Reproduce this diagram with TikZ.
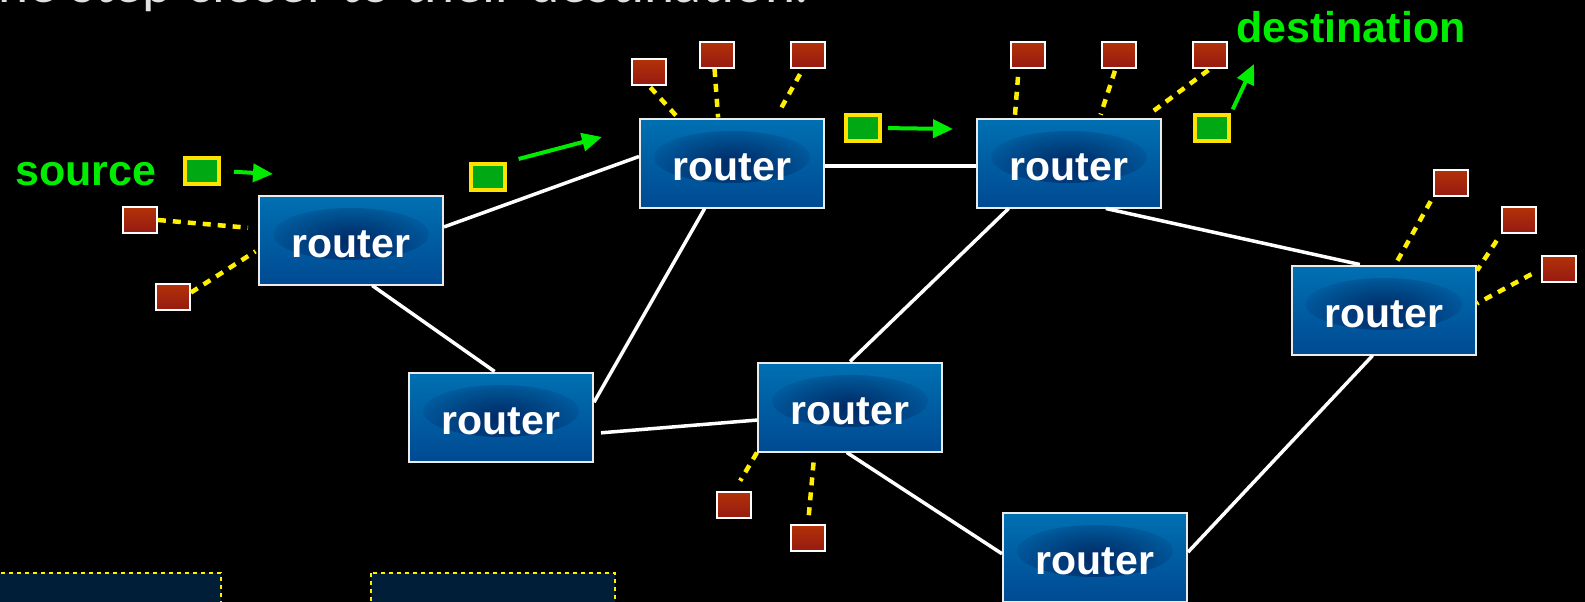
\documentclass[tikz,border=0pt]{standalone}
\usepackage{fontspec}
\setmainfont{Liberation Sans}
\newfontfamily\thinfont{Lato}
\usepackage{tikz}
\usetikzlibrary{arrows.meta}
\usetikzlibrary{fadings}
\definecolor{routertop}{RGB}{0,112,178}
\definecolor{routerbot}{RGB}{0,74,146}
\definecolor{hosttop}{RGB}{178,50,8}
\definecolor{hostbot}{RGB}{150,26,18}
\definecolor{pktgreen}{RGB}{0,168,20}
\definecolor{pktyellow}{RGB}{255,226,0}
\definecolor{wireyellow}{RGB}{255,240,0}
\definecolor{tagreen}{RGB}{0,236,0}
\definecolor{panelblue}{RGB}{0,30,56}
\tikzfading[name=softblob,inner color=transparent!0,outer color=transparent!100]

\begin{document}
\begin{tikzpicture}[x=1pt,y=-1pt,
	router/.style={draw=white!92!black,line width=2pt,top color=routertop,bottom color=routerbot,minimum width=184pt,minimum height=89pt,text height=34pt,text depth=0pt,text=white,font=\bfseries\fontsize{41}{41}\selectfont,
		path picture={\fill[black!80!blue,opacity=.55,path fading=softblob] ([yshift=6pt]path picture bounding box.center) ellipse (78pt and 26pt);}},
	host/.style={draw=white,line width=1.8pt,top color=hosttop,bottom color=hostbot,minimum width=34pt,minimum height=26pt,inner sep=0pt},
	packet/.style={draw=pktyellow,line width=4pt,fill=pktgreen,minimum width=34pt,minimum height=26pt,inner sep=0pt},
	link/.style={draw=white,line width=3.5pt},
	wire/.style={draw=wireyellow,line width=4.5pt,dash pattern=on 8pt off 7pt},
	move/.style={draw=tagreen,line width=4pt,-{Triangle[length=20pt,width=18pt]}},
	tag/.style={text=tagreen,inner sep=0pt,font=\bfseries\fontsize{43}{43}\selectfont},
	panel/.style={fill=panelblue,draw=wireyellow,line width=2pt,dash pattern=on 4pt off 4pt}]
	\clip (0,0) rectangle (1585,602);
	\fill[black] (0,0) rectangle (1585,602);
	\node[anchor=base east,inner sep=0pt,text=white!88!black,font=\thinfont\fontsize{54}{54}\selectfont] (title) at (808,3) {one step closer to their destination.}; % cut by the top edge
	% routers
	\node[router] (r1) at (351,240) {router};
	\node[router] (r2) at (732,163) {router};
	\node[router] (r3) at (1069,163) {router};
	\node[router] (r4) at (501,417) {router};
	\node[router] (r5) at (850,407) {router};
	\node[router] (r6) at (1384,310) {router};
	\node[router] (r7) at (1095,557) {router};
	% hosts
	\node[host] (h1a) at (140,220) {};
	\node[host] (h1b) at (173,297) {};
	\node[host] (h2a) at (649,72) {};
	\node[host] (h2b) at (717,55) {};
	\node[host] (h2c) at (808,55) {};
	\node[host] (h3a) at (1028,55) {};
	\node[host] (h3b) at (1119,55) {};
	\node[host] (h3c) at (1210,55) {};
	\node[host] (h5a) at (734,505) {};
	\node[host] (h5b) at (808,538) {};
	\node[host] (h6a) at (1451,183) {};
	\node[host] (h6b) at (1519,220) {};
	\node[host] (h6c) at (1559,269) {};
	% links between routers
	\draw[link] (r1.8) -- (r2.176);
	\draw[link] (r1.-65) -- (r4.98);
	\draw[link] (r2.-121) -- (r4.9);
	\draw[link,shorten <=7pt] (r4.-10) -- (r5.188);
	\draw[link] (r2.-2) -- (r3.182);
	\draw[link] (r3.-143) -- (r5.90);
	\draw[link] (r3.-51) -- (r6.118);
	\draw[link] (r5.-94) -- (r7.178);
	\draw[link] (r7.3) -- (r6.-104);
	% hosts to routers
	\draw[wire,shorten >=10pt] (h1a.east) -- (r1.173);
	\draw[wire,shorten >=3pt] (h1b.14) -- (r1.186);
	\draw[wire,shorten <=2pt] (h2a.south) -- (r2.140);
	\draw[wire] (h2b.-100) -- (r2.107);
	\draw[wire,shorten <=6pt,shorten >=6pt] (h2c.-110) -- (r2.46);
	\draw[wire,shorten <=8pt] (h3a.-124) -- (r3.140);
	\draw[wire,shorten <=2pt,shorten >=3pt] (h3b.-104) -- (r3.56);
	\draw[wire,shorten <=2pt,shorten >=8pt] (h3c.south) -- (r3.31);
	\draw[wire,shorten >=12pt] (r5.south west) -- (h5a.north);
	\draw[wire,shorten <=10pt,shorten >=8pt] (r5.-128) -- (h5b.north);
	\draw[wire,shorten <=5pt,shorten >=4pt] (h6a.south west) -- (r6.76);
	\draw[wire,shorten <=8pt] (h6b.south west) -- (r6.23);
	\draw[wire,shorten <=11pt] (h6c.west) -- (r6.4);
	% the packet on its way
	\node[packet] (pk1) at (202,171) {};
	\node[packet] (pk2) at (488,177) {};
	\node[packet] (pk3) at (863,128) {};
	\node[packet] (pk4) at (1212,128) {};
	\coordinate (m1) at (273,174);
	\coordinate (m2) at (602,137);
	\coordinate (m3) at (953,129);
	\coordinate (m4) at (1254,64);
	\draw[move,shorten <=13pt] (pk1.east) -- (m1);
	\draw[move,shorten <=12pt] (pk2.north east) -- (m2);
	\draw[move,shorten <=6pt] (pk3.east) -- (m3);
	\draw[move,shorten <=4pt] (pk4.north east) -- (m4);
	\node[tag,anchor=base west] (src) at (15,185) {source};
	\node[tag,anchor=base west] (dst) at (1236,43) {destination};
	% panels cut by the bottom edge
	\draw[panel] (-5,573) rectangle (221,612);
	\draw[panel] (371,573) rectangle (615,612);
\end{tikzpicture}
\end{document}
